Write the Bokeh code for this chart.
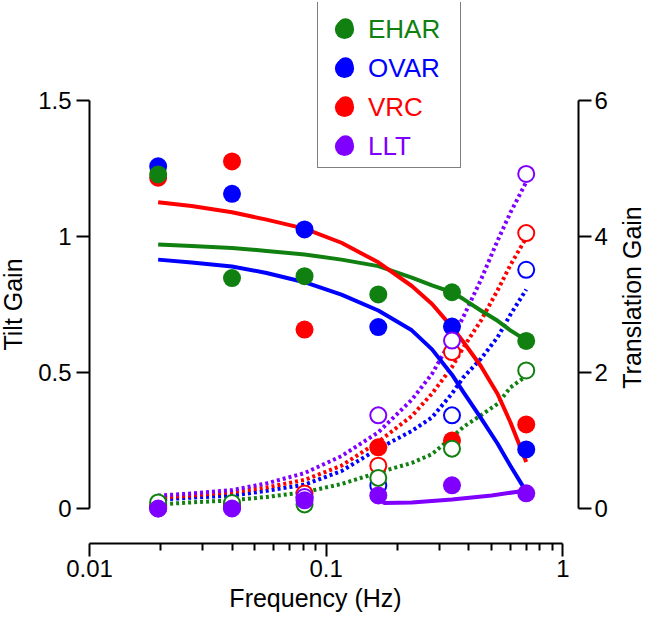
import math
from bokeh.plotting import figure
from bokeh.models import (Range1d, LinearAxis, FixedTicker, NumeralTickFormatter,
                          Legend, LegendItem, Label)
from bokeh.embed import file_html
from bokeh.resources import INLINE

# measured stimulus frequencies (Hz)
freq = [0.0195, 0.04, 0.081, 0.166, 0.34, 0.70]

# tilt gain (filled symbols, left axis)
tilt_ehar = [1.228, 0.847, 0.854, 0.787, 0.795, 0.616]
tilt_ovar = [1.258, 1.157, 1.026, 0.667, 0.669, 0.217]
tilt_vrc = [1.216, 1.276, 0.658, 0.225, 0.250, 0.309]
tilt_llt = [0.0, 0.0, 0.03, 0.048, 0.085, 0.056]

# translation gain (open symbols, right axis)
trans_ehar = [0.09, 0.08, 0.06, 0.45, 0.88, 2.03]
trans_ovar = [0.02, 0.03, 0.16, 0.34, 1.37, 3.51]
trans_vrc = [0.04, 0.05, 0.22, 0.63, 2.30, 4.05]
trans_llt = [0.0, 0.01, 0.17, 1.37, 2.47, 4.92]

# fitted curves
fit_freq = [0.0195, 0.027, 0.04, 0.056, 0.081, 0.116, 0.166, 0.23, 0.28, 0.34, 0.38, 0.45, 0.53, 0.6, 0.7]
fit_tilt_ehar = [0.971, 0.965, 0.958, 0.947, 0.934, 0.915, 0.891, 0.849, 0.820, 0.795, 0.770, 0.728, 0.690, 0.655, 0.618]
fit_tilt_ovar = [0.915, 0.904, 0.890, 0.866, 0.832, 0.786, 0.728, 0.655, 0.585, 0.492, 0.428, 0.333, 0.238, 0.157, 0.062]
fit_tilt_vrc = [1.126, 1.112, 1.089, 1.062, 1.029, 0.977, 0.905, 0.818, 0.752, 0.667, 0.612, 0.524, 0.421, 0.317, 0.171]
llt_fit_freq = [0.166, 0.176, 0.23, 0.34, 0.5, 0.7]
fit_tilt_llt = [0.041, 0.020, 0.022, 0.033, 0.048, 0.066]

fit_trans_ehar = [0.06, 0.09, 0.12, 0.17, 0.24, 0.36, 0.53, 0.67, 0.80, 1.05, 1.20, 1.37, 1.54, 1.78, 1.95]
fit_trans_ovar = [0.13, 0.16, 0.19, 0.26, 0.35, 0.55, 0.88, 1.14, 1.34, 1.69, 1.93, 2.20, 2.52, 2.85, 3.22]
fit_trans_vrc = [0.16, 0.19, 0.24, 0.31, 0.42, 0.63, 0.98, 1.36, 1.69, 2.08, 2.37, 2.76, 3.21, 3.58, 3.98]
fit_trans_llt = [0.19, 0.22, 0.27, 0.37, 0.52, 0.77, 1.12, 1.60, 1.98, 2.50, 2.82, 3.36, 3.94, 4.35, 4.80]

names = ["EHAR", "OVAR", "VRC", "LLT"]
GREEN, BLUE, RED, PURPLE = "#108010", "#0000ff", "#ff0000", "#8000ff"
FONT = "Liberation Sans"

FW, FH = 489, 541
p = figure(x_axis_type="log", x_range=Range1d(0.01, 1.164), y_range=Range1d(-0.1287, 1.8603),
           frame_width=FW, frame_height=FH,
           min_border_left=89, min_border_right=67, min_border_top=2, min_border_bottom=75,
           output_backend="svg", toolbar_location=None, tools="")
p.extra_y_ranges = {"trans": Range1d(-0.5147, 7.4412)}
p.outline_line_color = None
p.grid.visible = False
p.background_fill_color = "white"


def style(ax):
    ax.axis_line_width = 2
    ax.axis_line_color = "black"
    ax.major_tick_line_width = 2
    ax.minor_tick_line_width = 2
    ax.major_tick_in = 0
    ax.major_tick_out = 13
    ax.minor_tick_in = 0
    ax.minor_tick_out = 7
    ax.major_label_text_font = FONT
    ax.major_label_text_font_size = "24px"
    ax.major_label_text_color = "black"


xa = p.xaxis[0]
style(xa)
minor = [m * d for d in (0.01, 0.1) for m in range(2, 10)]
xa.ticker = FixedTicker(ticks=[0.01, 0.1, 1], minor_ticks=minor)
xa.formatter = NumeralTickFormatter(format="0.[00]")
xa.bounds = (0.01, 1)
xa.major_label_standoff = 3

ya = p.yaxis[0]
style(ya)
ya.ticker = FixedTicker(ticks=[0, 0.5, 1, 1.5], minor_ticks=[])
ya.formatter = NumeralTickFormatter(format="0.[0]")
ya.bounds = (0, 1.5)
ya.major_label_standoff = 5

ra = LinearAxis(y_range_name="trans",
                ticker=FixedTicker(ticks=[0, 2, 4, 6], minor_ticks=[]),
                formatter=NumeralTickFormatter(format="0"), bounds=(0, 6))
style(ra)
ra.major_label_standoff = 3
p.add_layout(ra, "right")

# axis titles, each in its own side slot
lab = dict(x_units="screen", y_units="screen", text_font=FONT, text_font_size="25px",
           text_color="black", text_align="center")
p.add_layout(Label(x=5, y=239, text="Tilt Gain", angle=math.pi / 2,
                   text_baseline="middle", **lab), "left")
p.add_layout(Label(x=21, y=246, text="Translation Gain", angle=math.pi / 2,
                   text_baseline="middle", **lab), "right")
p.add_layout(Label(x=226, y=10, text="Frequency (Hz)", text_baseline="alphabetic", **lab), "below")

# dotted translation fits
for ys, c in [(fit_trans_ehar, GREEN), (fit_trans_ovar, BLUE), (fit_trans_vrc, RED), (fit_trans_llt, PURPLE)]:
    p.line(fit_freq, ys, y_range_name="trans", color=c, line_width=4, line_dash="3 3")

# solid tilt fits
for ys, c in [(fit_tilt_ehar, GREEN), (fit_tilt_ovar, BLUE), (fit_tilt_vrc, RED)]:
    p.line(fit_freq, ys, color=c, line_width=4)
p.line(llt_fit_freq, fit_tilt_llt, color=PURPLE, line_width=4)

# filled symbols
r_ovar = p.scatter(freq, tilt_ovar, size=18, fill_color=BLUE, line_color=None)
r_vrc = p.scatter(freq, tilt_vrc, size=18, fill_color=RED, line_color=None)
r_ehar = p.scatter(freq, tilt_ehar, size=18, fill_color=GREEN, line_color=None)

# open symbols
for ys, c in [(trans_ovar, BLUE), (trans_vrc, RED), (trans_llt, PURPLE), (trans_ehar, GREEN)]:
    p.scatter(freq, ys, y_range_name="trans", size=16, fill_color="white", line_color=c, line_width=2)

r_llt = p.scatter(freq, tilt_llt, size=18, fill_color=PURPLE, line_color=None)

dots = [r_ehar, r_ovar, r_vrc, r_llt]
colors = [GREEN, BLUE, RED, PURPLE]

# legend: one framed box, plus one coloured entry per series laid on top of it
LX, ROW, BPAD = 228, 39, 5
box_h = 2 * BPAD + ROW * len(names)
box = Legend(items=[LegendItem(label=" ", renderers=[r]) for r in dots],
             location=(LX, FH - box_h), padding=BPAD, spacing=0, glyph_width=44, glyph_height=ROW,
             label_standoff=0, label_width=88, label_text_font=FONT, label_text_font_size="26px",
             border_line_color="black", border_line_width=1,
             background_fill_color="white", background_fill_alpha=1, margin=0)
p.add_layout(box)

for i, (n, r, c) in enumerate(zip(names, dots, colors)):
    lg = Legend(items=[LegendItem(label=n, renderers=[r])],
                location=(LX, FH - ROW * i - 54), padding=3, glyph_width=48, glyph_height=48,
                label_standoff=0, label_width=88, label_text_font=FONT, label_text_font_size="26px",
                label_text_color=c, border_line_alpha=0, background_fill_alpha=0, margin=0)
    p.add_layout(lg)

open("out.html", "w").write(file_html(p, INLINE))
